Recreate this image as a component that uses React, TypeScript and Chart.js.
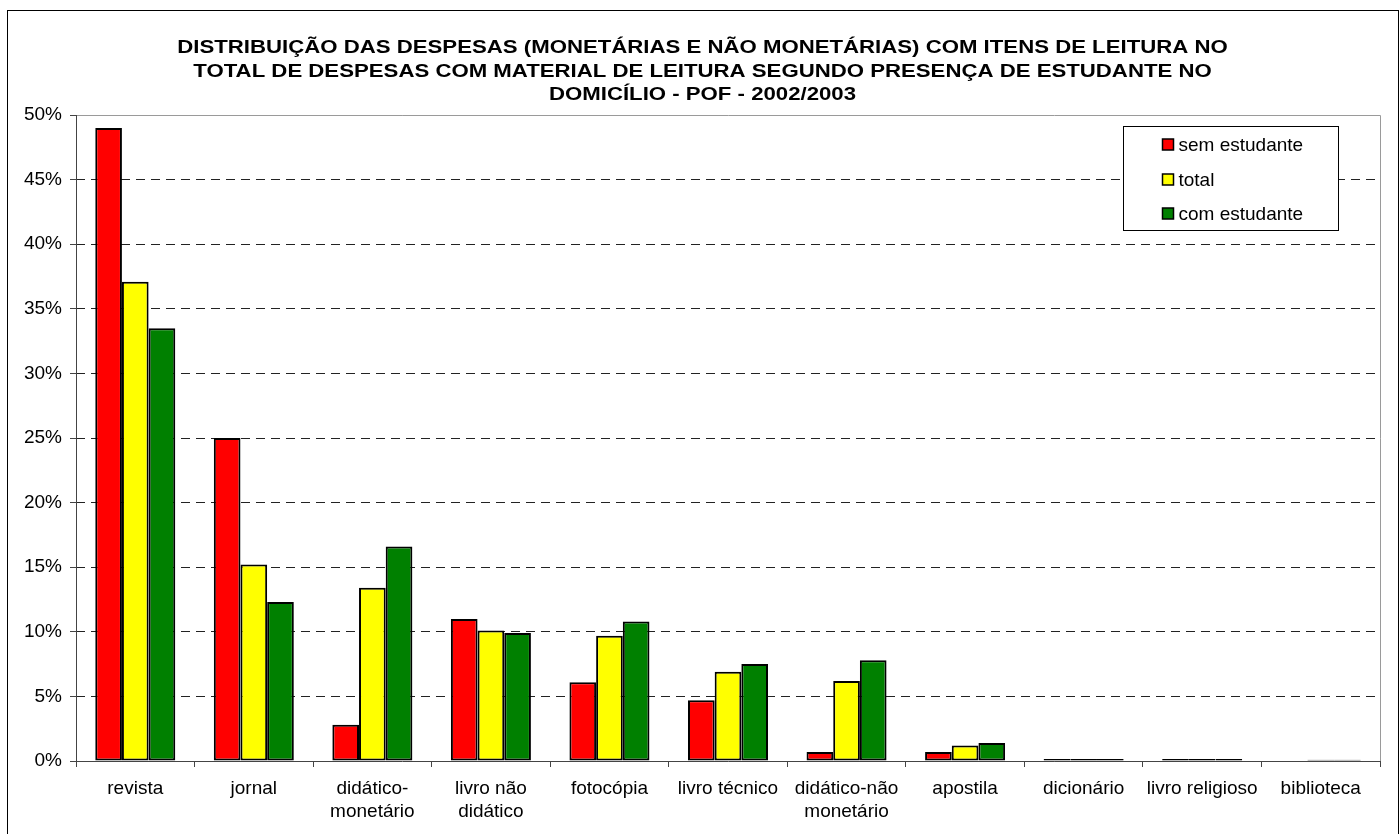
import { useEffect, useRef } from 'react';
import { Chart, registerables } from 'chart.js';

Chart.register(...registerables);

const FONT = '"Liberation Sans", Arial, Helvetica, sans-serif';

const titleLines = [
  'DISTRIBUIÇÃO DAS DESPESAS (MONETÁRIAS E NÃO MONETÁRIAS) COM ITENS DE LEITURA NO',
  'TOTAL DE DESPESAS COM MATERIAL DE LEITURA SEGUNDO PRESENÇA DE ESTUDANTE NO',
  'DOMICÍLIO - POF - 2002/2003',
];

const categories: (string | string[])[] = [
  'revista',
  'jornal',
  ['didático-', 'monetário'],
  ['livro não', 'didático'],
  'fotocópia',
  'livro técnico',
  ['didático-não', 'monetário'],
  'apostila',
  'dicionário',
  'livro religioso',
  'biblioteca',
];

const seriesNames = ['sem estudante', 'total', 'com estudante'];
const semEstudante = [49.0, 25.0, 2.8, 11.0, 6.1, 4.7, 0.7, 0.7, 0.15, 0.15, 0];
const total = [37.1, 15.2, 13.4, 10.1, 9.7, 6.9, 6.2, 1.2, 0.15, 0.15, 0.1];
const comEstudante = [33.5, 12.3, 16.6, 9.9, 10.8, 7.5, 7.8, 1.4, 0.15, 0.15, 0.1];
const seriesColors = ['#FF0000', '#FFFF00', '#008000'];

const yMin = 0;
const yMax = 50;
const yStep = 5;

const decorPlugin = {
  id: 'decor',
  afterDatasetsDraw(chart: any) {
    const { ctx, chartArea } = chart;
    const { left, right, top, bottom } = chartArea;
    ctx.save();
    ctx.lineWidth = 1;
    ctx.strokeStyle = '#9a9a9a';
    ctx.beginPath();
    ctx.moveTo(left, Math.round(top) + 0.5);
    ctx.lineTo(Math.round(right) + 0.5, Math.round(top) + 0.5);
    ctx.lineTo(Math.round(right) + 0.5, bottom);
    ctx.stroke();
    ctx.strokeStyle = '#444';
    ctx.beginPath();
    ctx.moveTo(Math.round(left) + 0.5, top);
    ctx.lineTo(Math.round(left) + 0.5, Math.round(bottom) + 0.5);
    ctx.lineTo(Math.round(right) + 1, Math.round(bottom) + 0.5);
    ctx.stroke();
    ctx.restore();
  },
  afterDraw(chart: any) {
    const { ctx, chartArea, width } = chart;
    ctx.save();
    ctx.strokeStyle = '#000';
    ctx.lineWidth = 1;
    ctx.strokeRect(7.5, 10.5, width - 9, 900);

    // title (slightly widened like the original)
    ctx.fillStyle = '#000';
    ctx.font = `bold 19px ${FONT}`;
    ctx.textAlign = 'center';
    ctx.textBaseline = 'middle';
    const cx = (7 + width - 2) / 2;
    titleLines.forEach((line, i) => {
      ctx.save();
      ctx.translate(cx, 48 + i * 23.5);
      ctx.scale(1.168, 1);
      ctx.fillText(line, 0, 0);
      ctx.restore();
    });

    // legend
    const bw = 215;
    const bh = 104;
    const bx = Math.round(chartArea.right - 257) + 0.5;
    const by = Math.round(chartArea.top + 11) + 0.5;
    ctx.fillStyle = '#fff';
    ctx.fillRect(bx, by, bw, bh);
    ctx.strokeStyle = '#000';
    ctx.lineWidth = 1;
    ctx.strokeRect(bx, by, bw, bh);
    ctx.font = `19px ${FONT}`;
    ctx.textAlign = 'left';
    ctx.textBaseline = 'middle';
    const offs = [18, 53, 87];
    chart.data.datasets.forEach((ds: any, i: number) => {
      const yc = by + offs[i];
      ctx.fillStyle = ds.backgroundColor;
      ctx.fillRect(bx + 39, Math.round(yc - 5.5), 11, 11);
      ctx.strokeStyle = '#000';
      ctx.lineWidth = 1.5;
      ctx.strokeRect(bx + 39, Math.round(yc - 5.5), 11, 11);
      ctx.fillStyle = '#000';
      ctx.fillText(ds.label, bx + 55, yc + 1);
    });
    ctx.restore();
  },
};

export default function App() {
  const canvasRef = useRef<HTMLCanvasElement | null>(null);

  useEffect(() => {
    if (!canvasRef.current) return;
    const seriesValues = [semEstudante, total, comEstudante];
    const chart = new Chart(canvasRef.current, {
      type: 'bar',
      data: {
        labels: categories,
        datasets: seriesNames.map((name, i) => ({
          label: name,
          data: seriesValues[i],
          backgroundColor: seriesColors[i],
          borderColor: '#000',
          borderWidth: 2,
          borderSkipped: false,
          categoryPercentage: 0.675,
          barPercentage: 1,
        })),
      },
      options: {
        animation: false,
        responsive: true,
        maintainAspectRatio: false,
        layout: { padding: { left: 0, right: 20, top: 115, bottom: 0 } },
        plugins: {
          legend: { display: false },
          title: { display: false },
          tooltip: { enabled: false },
        },
        scales: {
          x: {
            afterFit: (s: any) => {
              s.height = 73;
            },
            grid: {
              drawOnChartArea: false,
              drawTicks: true,
              tickLength: 6,
              tickColor: '#444',
              color: '#444',
            },
            border: { display: false },
            ticks: {
              color: '#000',
              font: { family: FONT, size: 19, lineHeight: 1.23 },
              padding: 10,
              maxRotation: 0,
              autoSkip: false,
            },
          },
          y: {
            min: yMin,
            max: yMax,
            afterFit: (s: any) => {
              s.width = 76;
            },
            grid: {
              color: (c: any) =>
                c.tick && (c.tick.value === yMin || c.tick.value === yMax) ? 'rgba(0,0,0,0)' : '#222',
              lineWidth: 1,
              tickLength: 6,
              tickColor: '#444',
              tickBorderDash: [],
            },
            border: { display: false, dash: [9, 6] },
            ticks: {
              stepSize: yStep,
              color: '#000',
              font: { family: FONT, size: 19 },
              padding: 8,
              callback: (v: any) => `${v}%`,
            },
          },
        },
      },
      plugins: [decorPlugin],
    });
    return () => chart.destroy();
  }, []);

  return (
    <div style={{ position: 'fixed', left: 0, top: 0, width: 1400, height: 834, background: '#fff' }}>
      <canvas ref={canvasRef} />
    </div>
  );
}
